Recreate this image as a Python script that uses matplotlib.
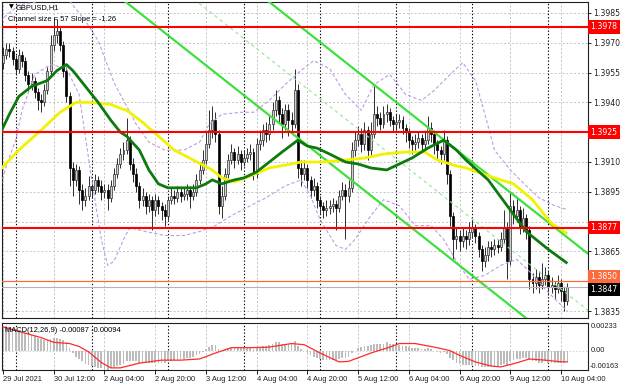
import matplotlib
matplotlib.use("Agg")
import matplotlib.pyplot as plt
from matplotlib.transforms import blended_transform_factory
import numpy as np

# ---------------- data ----------------
close = [1.3964, 1.3967, 1.3966, 1.3962, 1.3957, 1.3964, 1.3961, 1.3954, 1.3949, 1.3951,
         1.3945, 1.3941, 1.3940, 1.3946, 1.3956, 1.3969, 1.3974, 1.3976, 1.3969, 1.3956,
         1.3943, 1.3907, 1.3901, 1.3906, 1.3896, 1.3891, 1.3893, 1.3898, 1.3896, 1.3901,
         1.3898, 1.3895, 1.3896, 1.3892, 1.3898, 1.3904, 1.3909, 1.3914, 1.3916, 1.3921,
         1.3909, 1.3904, 1.3898, 1.3891, 1.3893, 1.3888, 1.3891, 1.3886, 1.3891, 1.3888,
         1.3886, 1.3883, 1.3891, 1.3893, 1.3892, 1.3895, 1.3893, 1.3894, 1.3896, 1.3893,
         1.3895, 1.3901, 1.3906, 1.3911, 1.3919, 1.3926, 1.3931, 1.3924, 1.3888, 1.3893,
         1.3904, 1.3911, 1.3915, 1.3911, 1.3914, 1.3910, 1.3912, 1.3914, 1.3915, 1.3904,
         1.3919, 1.3921, 1.3926, 1.3924, 1.3929, 1.3936, 1.3941, 1.3934, 1.3929, 1.3936,
         1.3931, 1.3929, 1.3946, 1.3907, 1.3904, 1.3907, 1.3901, 1.3896, 1.3898, 1.3891,
         1.3888, 1.3886, 1.3887, 1.3888, 1.3889, 1.3887, 1.3893, 1.3896, 1.3893, 1.3897,
         1.3916, 1.3921, 1.3924, 1.3919, 1.3926, 1.3916, 1.3924, 1.3934, 1.3932, 1.3929,
         1.3934, 1.3935, 1.3931, 1.3929, 1.3930, 1.3931, 1.3927, 1.3925, 1.3921, 1.3919,
         1.3920, 1.3922, 1.3919, 1.3921, 1.3927, 1.3924, 1.3919, 1.3916, 1.3914, 1.3921,
         1.3904, 1.3883, 1.3871, 1.3873, 1.3870, 1.3873, 1.3871, 1.3875, 1.3877, 1.3873,
         1.3866, 1.3860, 1.3863, 1.3867, 1.3866, 1.3868, 1.3867, 1.3871, 1.3877, 1.3860,
         1.3888, 1.3883, 1.3886, 1.3878, 1.3882, 1.3876, 1.3851, 1.3849, 1.3852, 1.3848,
         1.3851, 1.3853, 1.3847, 1.3848, 1.3846, 1.3849, 1.3845, 1.3840, 1.3847]

high = [1.3968, 1.3970, 1.3970, 1.3968, 1.3964, 1.3967, 1.3966, 1.3963, 1.3956, 1.3955,
        1.3953, 1.3947, 1.3944, 1.3949, 1.3958, 1.3974, 1.3983, 1.3982, 1.3978, 1.3971,
        1.3958, 1.3945, 1.3910, 1.3909, 1.3908, 1.3899, 1.3897, 1.3903, 1.3901, 1.3904,
        1.3903, 1.3901, 1.3899, 1.3899, 1.3901, 1.3907, 1.3912, 1.3917, 1.3920, 1.3932,
        1.3923, 1.3912, 1.3907, 1.3900, 1.3897, 1.3895, 1.3894, 1.3893, 1.3894, 1.3893,
        1.3890, 1.3889, 1.3893, 1.3897, 1.3896, 1.3898, 1.3897, 1.3897, 1.3899, 1.3898,
        1.3899, 1.3904, 1.3910, 1.3916, 1.3925, 1.3936, 1.3938, 1.3935, 1.3926, 1.3898,
        1.3907, 1.3914, 1.3919, 1.3917, 1.3918, 1.3916, 1.3916, 1.3917, 1.3919, 1.3917,
        1.3922, 1.3926, 1.3929, 1.3930, 1.3933, 1.3940, 1.3946, 1.3943, 1.3937, 1.3939,
        1.3939, 1.3935, 1.3957, 1.3949, 1.3911, 1.3911, 1.3909, 1.3903, 1.3902, 1.3900,
        1.3893, 1.3890, 1.3891, 1.3891, 1.3892, 1.3891, 1.3896, 1.3900, 1.3899, 1.3901,
        1.3920, 1.3925, 1.3928, 1.3927, 1.3930, 1.3928, 1.3930, 1.3948, 1.3938, 1.3935,
        1.3938, 1.3939, 1.3937, 1.3933, 1.3934, 1.3934, 1.3933, 1.3929, 1.3927, 1.3923,
        1.3924, 1.3925, 1.3924, 1.3926, 1.3933, 1.3930, 1.3926, 1.3921, 1.3918, 1.3926,
        1.3923, 1.3906, 1.3885, 1.3877, 1.3876, 1.3877, 1.3876, 1.3880, 1.3881, 1.3879,
        1.3875, 1.3868, 1.3867, 1.3870, 1.3870, 1.3871, 1.3871, 1.3875, 1.3886, 1.3880,
        1.3895, 1.3891, 1.3892, 1.3888, 1.3887, 1.3884, 1.3878, 1.3854, 1.3856, 1.3855,
        1.3859, 1.3857, 1.3855, 1.3852, 1.3850, 1.3853, 1.3851, 1.3847, 1.3849]

low = [1.3957, 1.3962, 1.3963, 1.3959, 1.3954, 1.3955, 1.3958, 1.3951, 1.3945, 1.3946,
       1.3942, 1.3936, 1.3935, 1.3938, 1.3944, 1.3954, 1.3966, 1.3970, 1.3966, 1.3953,
       1.3940, 1.3898, 1.3893, 1.3898, 1.3889, 1.3886, 1.3888, 1.3891, 1.3892, 1.3894,
       1.3895, 1.3891, 1.3892, 1.3886, 1.3890, 1.3896, 1.3902, 1.3907, 1.3911, 1.3914,
       1.3906, 1.3900, 1.3895, 1.3887, 1.3888, 1.3884, 1.3885, 1.3876, 1.3883, 1.3884,
       1.3881, 1.3878, 1.3881, 1.3889, 1.3889, 1.3890, 1.3890, 1.3891, 1.3891, 1.3887,
       1.3891, 1.3893, 1.3899, 1.3904, 1.3909, 1.3917, 1.3922, 1.3920, 1.3884, 1.3882,
       1.3891, 1.3902, 1.3909, 1.3907, 1.3909, 1.3906, 1.3908, 1.3910, 1.3911, 1.3901,
       1.3902, 1.3916, 1.3918, 1.3920, 1.3921, 1.3926, 1.3933, 1.3930, 1.3922, 1.3926,
       1.3923, 1.3924, 1.3927, 1.3902, 1.3898, 1.3901, 1.3897, 1.3892, 1.3893, 1.3887,
       1.3884, 1.3882, 1.3883, 1.3884, 1.3885, 1.3876, 1.3885, 1.3891, 1.3871, 1.3890,
       1.3895, 1.3913, 1.3918, 1.3915, 1.3916, 1.3911, 1.3913, 1.3922, 1.3928, 1.3926,
       1.3927, 1.3930, 1.3928, 1.3925, 1.3926, 1.3927, 1.3924, 1.3920, 1.3917, 1.3914,
       1.3916, 1.3917, 1.3915, 1.3916, 1.3919, 1.3920, 1.3914, 1.3911, 1.3909, 1.3911,
       1.3899, 1.3878, 1.3861, 1.3866, 1.3865, 1.3867, 1.3866, 1.3868, 1.3872, 1.3869,
       1.3862, 1.3855, 1.3857, 1.3860, 1.3862, 1.3863, 1.3864, 1.3865, 1.3869, 1.3851,
       1.3858, 1.3879, 1.3880, 1.3874, 1.3875, 1.3871, 1.3846, 1.3844, 1.3846, 1.3844,
       1.3846, 1.3848, 1.3843, 1.3844, 1.3841, 1.3844, 1.3840, 1.3835, 1.3838]

first_open = 1.3960

ma30_bars = [-1, 2, 5, 9, 14, 17, 20, 22, 25, 30, 34, 37, 39, 43, 46, 49, 52, 56, 61, 64,
             66, 69, 73, 76, 80, 84, 88, 93, 96, 99, 103, 108, 112, 116, 121, 125, 129,
             134, 139, 143, 146, 153, 159, 165, 172, 178]
ma30_vals = [1.3924, 1.3934, 1.3943, 1.3948, 1.3951, 1.3956, 1.3959, 1.3956, 1.3950, 1.3940,
             1.3931, 1.3925, 1.3923, 1.3916, 1.3906, 1.3899, 1.3897, 1.3897, 1.3897, 1.3899,
             1.3901, 1.3899, 1.3901, 1.3902, 1.3905, 1.3910, 1.3915, 1.3921, 1.3918, 1.3917,
             1.3914, 1.3910, 1.3909, 1.3907, 1.3906, 1.3909, 1.3912, 1.3917, 1.3921, 1.3916,
             1.3911, 1.3901, 1.3888, 1.3875, 1.3866, 1.3859]

ma50_bars = [-1, 5, 12, 18, 23, 27, 34, 37, 39, 44, 49, 54, 60, 66, 69, 73, 78, 84, 91, 94,
             101, 108, 114, 120, 127, 133, 137, 143, 146, 155, 161, 167, 173, 178]
ma50_vals = [1.3906, 1.3916, 1.3926, 1.3935, 1.3940, 1.3940, 1.3939, 1.3937, 1.3936, 1.3930,
             1.3923, 1.3916, 1.3911, 1.3906, 1.3902, 1.3900, 1.3903, 1.3907, 1.3909, 1.3910,
             1.3910, 1.3911, 1.3912, 1.3914, 1.3915, 1.3915, 1.3911, 1.3908, 1.3907, 1.3902,
             1.3899, 1.3891, 1.3879, 1.3874]

band_up_bars = [-1, 5, 12, 16, 21, 26, 30, 35, 38, 42, 46, 51, 57, 62, 65, 69, 75, 79, 84,
                89, 94, 98, 103, 108, 113, 117, 122, 127, 132, 136, 141, 145, 149, 152, 155,
                160, 165, 169, 174, 178]
band_up_vals = [1.3981, 1.3989, 1.3991, 1.3994, 1.3991, 1.3981, 1.3971, 1.3950, 1.3941, 1.3929,
                1.3920, 1.3916, 1.3916, 1.3920, 1.3929, 1.3934, 1.3935, 1.3935, 1.3941, 1.3949,
                1.3956, 1.3961, 1.3957, 1.3944, 1.3936, 1.3949, 1.3954, 1.3944, 1.3941, 1.3946,
                1.3954, 1.3960, 1.3951, 1.3934, 1.3916, 1.3906, 1.3898, 1.3892, 1.3888, 1.3886]

band_lo_bars = [-1, 1, 4, 6, 10, 15, 20, 24, 28, 31, 33, 35, 38, 40, 45, 51, 57, 62, 67, 72,
                78, 83, 89, 94, 97, 100, 105, 108, 111, 116, 120, 125, 130, 135, 139, 143,
                147, 152, 157, 162, 166, 171, 176, 178]
band_lo_vals = [1.3896, 1.3908, 1.3921, 1.3936, 1.3954, 1.3959, 1.3957, 1.3944, 1.3901, 1.3871,
                1.3858, 1.3860, 1.3871, 1.3877, 1.3875, 1.3873, 1.3873, 1.3875, 1.3878, 1.3883,
                1.3888, 1.3892, 1.3898, 1.3901, 1.3893, 1.3881, 1.3868, 1.3866, 1.3871, 1.3883,
                1.3891, 1.3888, 1.3878, 1.3878, 1.3871, 1.3860, 1.3851, 1.3853, 1.3858, 1.3861,
                1.3855, 1.3846, 1.3838, 1.3835]

macd_hist = [0.0021, 0.0021, 0.0020, 0.0019, 0.0018, 0.0017, 0.0016, 0.0015, 0.0014, 0.0013,
             0.0012, 0.0011, 0.0010, 0.0009, 0.0009, 0.0010, 0.0011, 0.0011, 0.0010, 0.0009,
             0.0007, 0.0002, -0.0002, -0.0005, -0.0007, -0.0009, -0.0011, -0.0012, -0.0013, -0.0014,
             -0.0015, -0.0015, -0.0016, -0.0016, -0.0015, -0.0014, -0.0013, -0.0012, -0.0011, -0.0009,
             -0.0009, -0.0009, -0.0009, -0.0010, -0.0010, -0.0010, -0.0010, -0.0010, -0.0010, -0.0010,
             -0.0010, -0.0010, -0.0009, -0.0009, -0.0008, -0.0008, -0.0007, -0.0007, -0.0006, -0.0006,
             -0.0005, -0.0004, -0.0003, -0.0001, 0.0001, 0.0003, 0.0005, 0.0005, 0.0001, 0.0000,
             0.0001, 0.0002, 0.0002, 0.0002, 0.0002, 0.0002, 0.0002, 0.0002, 0.0002, 0.0001,
             0.0002, 0.0003, 0.0004, 0.0004, 0.0005, 0.0006, 0.0007, 0.0007, 0.0006, 0.0006,
             0.0006, 0.0006, 0.0008, 0.0004, 0.0001, 0.0000, -0.0002, -0.0004, -0.0005, -0.0006,
             -0.0007, -0.0008, -0.0008, -0.0008, -0.0008, -0.0008, -0.0007, -0.0006, -0.0006, -0.0005,
             -0.0002, 0.0000, 0.0002, 0.0003, 0.0004, 0.0004, 0.0005, 0.0006, 0.0006, 0.0006,
             0.0006, 0.0007, 0.0006, 0.0006, 0.0005, 0.0005, 0.0004, 0.0004, 0.0003, 0.0002,
             0.0002, 0.0002, 0.0001, 0.0001, 0.0002, 0.0001, 0.0000, -0.0001, -0.0002, -0.0001,
             -0.0003, -0.0006, -0.0008, -0.0010, -0.0011, -0.0012, -0.0012, -0.0012, -0.0012, -0.0013,
             -0.0013, -0.0014, -0.0014, -0.0014, -0.0013, -0.0013, -0.0013, -0.0012, -0.0011, -0.0012,
             -0.0009, -0.0008, -0.0007, -0.0007, -0.0006, -0.0006, -0.0008, -0.0009, -0.0009, -0.0010,
             -0.0010, -0.0009, -0.0010, -0.0010, -0.0010, -0.0010, -0.0010, -0.0010, -0.00087]

signal_bars = [0, 12, 16, 21, 24, 27, 31, 34, 37, 43, 50, 56, 62, 67, 72, 78, 84, 91, 95,
               100, 106, 109, 116, 122, 125, 130, 136, 141, 144, 149, 154, 157, 162, 166,
               171, 176, 178]
signal_vals = [0.0020, 0.0011, 0.0007, 0.0006, 0.00035, -0.0001, -0.0010, -0.00145, -0.00145,
               -0.00105, -0.0008, -0.0008, -0.0007, -0.0002, 0.00025, 0.00025, 0.0003, 0.0006,
               0.0005, -0.0002, -0.00095, -0.0009, -0.0002, 0.0003, 0.0006, 0.0006, 0.0003,
               0.0000, -0.0004, -0.00095, -0.0013, -0.00137, -0.00103, -0.0007, -0.0008,
               -0.00094, -0.00094]

level_lines = [1.3978, 1.3925, 1.3877]
alert_level = 1.3850
bid_price = 1.3847
price_ticks = [1.3985, 1.3970, 1.3955, 1.3940, 1.3910, 1.3895, 1.3865, 1.3835]
grid_prices = [1.3985, 1.3970, 1.3955, 1.3940, 1.3925, 1.3910, 1.3895, 1.3880, 1.3865,
               1.3850, 1.3835]
time_tick_bars = [0, 16, 32, 48, 64, 80, 96, 112, 128, 144, 160, 176]
time_labels = ["29 Jul 2021", "30 Jul 12:00", "2 Aug 04:00", "2 Aug 20:00", "3 Aug 12:00",
               "4 Aug 04:00", "4 Aug 20:00", "5 Aug 12:00", "6 Aug 04:00", "6 Aug 20:00",
               "9 Aug 12:00", "10 Aug 04:00"]
day_sep_bars = [4, 28, 52, 76, 100, 124, 148, 172]

channel_size_pips = 57
channel_slope_pips = -1.26
channel_ref_bar = 100
channel_lower_ref = 1.39133
pip = 0.0001

macd_top, macd_bottom = 0.00233, -0.00163

# ---------------- figure ----------------
W, H = 620, 388
fig = plt.figure(figsize=(W / 100, H / 100), dpi=100)
fig.patch.set_facecolor("white")
FONT_R = "DejaVu Sans"       # right price scale
FONT_T = "Liberation Sans"   # other texts (narrow, Tahoma-like widths)
FS = 5.6
FS_T = 5.4

ax = fig.add_axes([2 / W, 1 - 318 / H, 586 / W, 316 / H])
ax2 = fig.add_axes([2 / W, 1 - 370 / H, 586 / W, 47 / H])
xlim = (-0.32, 184.5)
for a in (ax, ax2):
    a.set_xlim(*xlim)
    for s in a.spines.values():
        s.set_color("#202020")
        s.set_linewidth(0.8)
ax.set_ylim(1.38315, 1.39905)
ax2.set_ylim(macd_bottom, macd_top)

# grid
for a in (ax, ax2):
    for b in time_tick_bars:
        a.axvline(b, color="#c4c4c4", lw=0.7, ls=(0, (2, 2)), zorder=0)
    for b in day_sep_bars:
        a.axvline(b, color="#000000", lw=0.8, ls=(0, (1.2, 1.8)), zorder=0.5)
for p in grid_prices:
    ax.axhline(p, color="#c4c4c4", lw=0.7, ls=(0, (2, 2)), zorder=0)
ax2.axhline(0.0, color="#d0d0d0", lw=0.6, ls=(0, (2, 2)), zorder=0)

# candles
bars = np.arange(len(close))
opens = np.array([first_open] + close[:-1])
closes = np.array(close)
bull = closes >= opens
ax.vlines(bars, low, high, color="#202020", lw=0.65, zorder=2)
body_bottom = np.minimum(opens, closes)
body_h = np.maximum(np.abs(closes - opens), 0.00004)
ax.bar(bars[bull], body_h[bull], bottom=body_bottom[bull], width=0.62,
       color="#d0d0d0", edgecolor="#303030", linewidth=0.5, zorder=2.5)
ax.bar(bars[~bull], body_h[~bull], bottom=body_bottom[~bull], width=0.62,
       color="#000000", edgecolor="#000000", linewidth=0.5, zorder=2.5)

# bands
ax.plot(band_up_bars, band_up_vals, color="#c09ae6", lw=0.8, ls=(0, (3, 2)), zorder=3)
ax.plot(band_lo_bars, band_lo_vals, color="#c09ae6", lw=0.8, ls=(0, (3, 2)), zorder=3)

# regression channel
cx = np.array([-1.0, 185.0])
lower = channel_lower_ref + channel_slope_pips * pip * (cx - channel_ref_bar)
upper = lower + channel_size_pips * pip
mid = lower + channel_size_pips * pip / 2
ax.plot(cx, lower, color="#3ee03e", lw=1.6, zorder=3.5)
ax.plot(cx, upper, color="#3ee03e", lw=1.6, zorder=3.5)
ax.plot(cx, mid, color="#90e890", lw=0.8, ls=(0, (3, 3)), zorder=3.5)

# moving averages
ax.plot(ma50_bars, ma50_vals, color="#f2f200", lw=2.0, zorder=4, solid_capstyle="butt")
ax.plot(ma30_bars, ma30_vals, color="#0c7a0c", lw=2.0, zorder=4.2, solid_capstyle="butt")

# horizontal levels
for lv in level_lines:
    ax.axhline(lv, color="#ff0000", lw=1.5, zorder=5)
ax.axhline(alert_level, color="#ff6a3a", lw=0.9, zorder=5)
ax.axhline(bid_price, color="#b4b4b4", lw=0.8, zorder=5)

# right price axis
ax.yaxis.tick_right()
ax.set_yticks(price_ticks + level_lines + [alert_level, 1.3880])
ax.set_yticklabels([f"{p:.4f}" for p in price_ticks] + [""] * 5)
ax.tick_params(axis="y", length=2.5, width=0.7, pad=1.5, labelsize=FS, colors="#202020")
for t in ax.get_yticklabels():
    t.set_fontfamily(FONT_R)
ax.set_xticks([])

tr = blended_transform_factory(ax.transAxes, ax.transData)
def box_label(a, trans, val, txt, fc, tc="white"):
    a.text(1.004, val, txt, transform=trans, ha="left", va="center", fontsize=FS,
           family=FONT_R, color=tc, zorder=10, clip_on=False,
           bbox=dict(boxstyle="square,pad=0.28", fc=fc, ec="none"))

box_label(ax, tr, level_lines[0], f"{level_lines[0]:.4f}", "#ff0000")
box_label(ax, tr, level_lines[1], f"{level_lines[1]:.4f}", "#ff0000")
box_label(ax, tr, level_lines[2], f"{level_lines[2]:.4f}", "#ff0000")
box_label(ax, tr, alert_level + 0.00025, f"{alert_level:.4f}", "#ff6a3a")
box_label(ax, tr, bid_price - 0.0001, f"{bid_price:.4f}", "#000000")

# header texts
ax.text(0.012, 0.984, "\u25bc", transform=ax.transAxes, fontsize=4.5, family="DejaVu Sans",
        va="center", ha="left", color="#000000", zorder=10)
ax.text(0.024, 0.984, "GBPUSD,H1", transform=ax.transAxes, fontsize=FS_T, family=FONT_T,
        va="center", ha="left", color="#000000", zorder=10)
ax.text(0.010, 0.946, f"Channel size = {channel_size_pips} Slope = {channel_slope_pips}",
        transform=ax.transAxes, fontsize=FS_T, family=FONT_T, va="center", ha="left",
        color="#000000", zorder=10)

# MACD panel
ax2.bar(bars, macd_hist, width=0.55, color="#bcbcbc", zorder=2)
ax2.plot(signal_bars, signal_vals, color="#ff2a2a", lw=0.9, zorder=3)
ax2.text(0.005, 0.83, f"MACD(12,26,9) {macd_hist[-1]:.5f} {signal_vals[-1]:.5f}",
         transform=ax2.transAxes, fontsize=FS_T, family=FONT_T, va="center", ha="left",
         color="#000000", zorder=10)
tr2 = blended_transform_factory(ax2.transAxes, ax2.transData)
ax2.text(1.004, macd_top, f"{macd_top:.5f}", transform=tr2, ha="left", va="top",
         fontsize=5.3, family=FONT_T, color="#202020")
ax2.text(1.004, 0.0, "0.00", transform=tr2, ha="left", va="center",
         fontsize=5.3, family=FONT_T, color="#202020")
ax2.text(1.002, macd_bottom, f"{macd_bottom:.5f}", transform=tr2, ha="left", va="bottom",
         fontsize=5.3, family=FONT_T, color="#202020")
ax2.set_yticks([])
ax2.set_xticks(time_tick_bars)
ax2.set_xticklabels(time_labels, ha="left", fontsize=FS_T, family=FONT_T, color="#202020")
ax2.tick_params(axis="x", length=3, width=0.7, pad=1.5, colors="#202020")

fig.savefig("out.png", dpi=100, facecolor="white")
